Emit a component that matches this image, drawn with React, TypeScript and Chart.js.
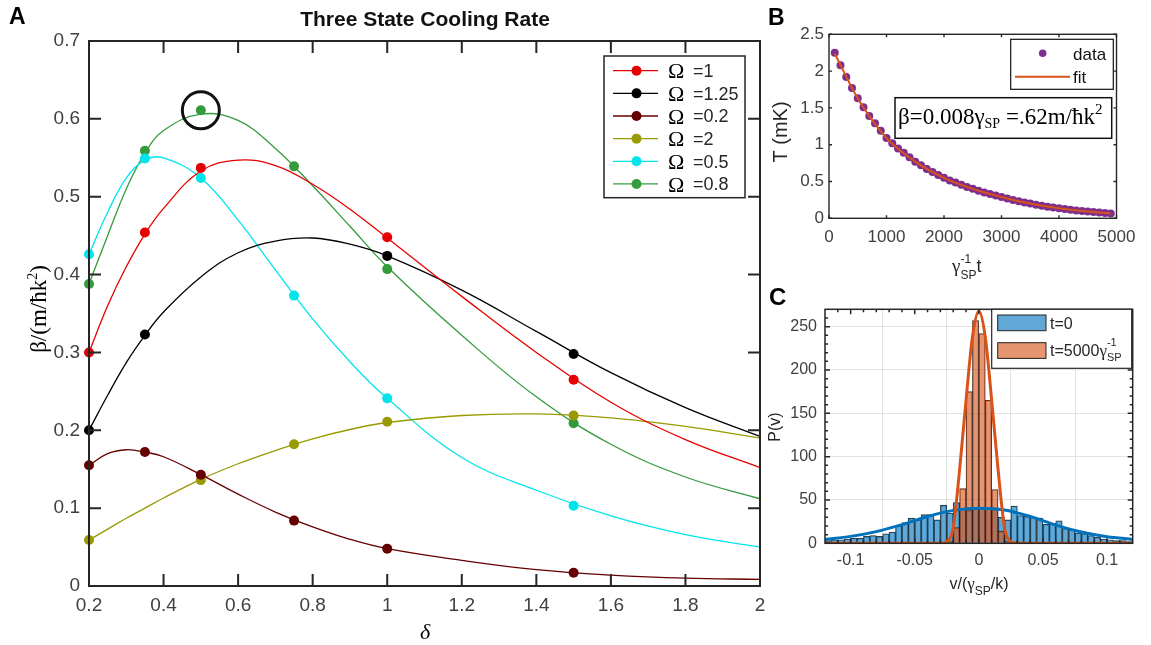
import React, { useEffect, useRef } from "react";
import { Chart, registerables } from "chart.js";

Chart.register(...registerables);

const W = 1151;
const H = 645;
const SANS = '"Liberation Sans", Arial, Helvetica, sans-serif';
const SERIF = '"Liberation Serif", "Times New Roman", serif';
const TICK_GRAY = "#404040";
const AXIS_DARK = "#262626";

// ---------------- Panel A : Three State Cooling Rate ----------------
const deltaPts = [0.2, 0.35, 0.5, 0.75, 1, 1.5];
const betaOmega1 = [0.3, 0.454, 0.537, null, 0.448, 0.265];
const betaOmega125 = [0.2, 0.323, null, null, 0.424, 0.298];
const betaOmega02 = [0.155, 0.172, 0.143, 0.084, 0.048, 0.017];
const betaOmega2 = [0.059, null, 0.136, 0.182, 0.211, 0.219];
const betaOmega05 = [0.426, 0.549, 0.524, 0.373, 0.241, 0.103];
const betaOmega08 = [0.388, 0.559, 0.611, 0.539, 0.407, 0.209];

const deltaFine = [0.2, 0.25, 0.3, 0.35, 0.4, 0.5, 0.6, 0.7, 0.8, 0.9, 1.0, 1.2, 1.4, 1.6, 1.8, 2.0];
const fitOmega1 = [0.3, 0.36, 0.41, 0.452, 0.485, 0.533, 0.547, 0.54, 0.516, 0.484, 0.447, 0.372, 0.3, 0.236, 0.188, 0.152];
const fitOmega125 = [0.2, 0.245, 0.287, 0.322, 0.352, 0.397, 0.428, 0.443, 0.447, 0.439, 0.424, 0.38, 0.327, 0.274, 0.229, 0.192];
const fitOmega02 = [0.155, 0.17, 0.175, 0.172, 0.166, 0.143, 0.118, 0.095, 0.076, 0.06, 0.048, 0.033, 0.021, 0.014, 0.01, 0.0086];
const fitOmega2 = [0.059, 0.073, 0.087, 0.1, 0.113, 0.137, 0.157, 0.174, 0.189, 0.201, 0.21, 0.219, 0.221, 0.216, 0.205, 0.19];
const fitOmega05 = [0.426, 0.48, 0.524, 0.547, 0.55, 0.524, 0.47, 0.406, 0.343, 0.288, 0.241, 0.165, 0.123, 0.09, 0.066, 0.05];
const fitOmega08 = [0.388, 0.45, 0.51, 0.556, 0.585, 0.606, 0.598, 0.562, 0.514, 0.462, 0.41, 0.322, 0.243, 0.182, 0.14, 0.112];

const omegaLabels = ["=1", "=1.25", "=0.2", "=2", "=0.5", "=0.8"];
const omegaColors = ["rgb(230,0,0)", "rgb(0,0,0)", "rgb(102,0,0)", "rgb(153,153,0)", "rgb(0,228,235)", "rgb(52,155,60)"];
const highlightDelta = [0.5];
const highlightBeta = [0.611];

const aXTicks = [0.2, 0.4, 0.6, 0.8, 1, 1.2, 1.4, 1.6, 1.8, 2];
const aXTickLabels = ["0.2", "0.4", "0.6", "0.8", "1", "1.2", "1.4", "1.6", "1.8", "2"];
const aYTicks = [0, 0.1, 0.2, 0.3, 0.4, 0.5, 0.6, 0.7];
const aYTickLabels = ["0", "0.1", "0.2", "0.3", "0.4", "0.5", "0.6", "0.7"];

// ---------------- Panel B : temperature vs time ----------------
const timeB = [
  100, 200, 300, 400, 500, 600, 700, 800, 900, 1000,
  1100, 1200, 1300, 1400, 1500, 1600, 1700, 1800, 1900, 2000,
  2100, 2200, 2300, 2400, 2500, 2600, 2700, 2800, 2900, 3000,
  3100, 3200, 3300, 3400, 3500, 3600, 3700, 3800, 3900, 4000,
  4100, 4200, 4300, 4400, 4500, 4600, 4700, 4800, 4900,
];
const tempB = [
  2.25, 2.08, 1.92, 1.77, 1.63, 1.51, 1.39, 1.29, 1.19, 1.09,
  1.02, 0.95, 0.89, 0.83, 0.77, 0.72, 0.67, 0.63, 0.59, 0.55,
  0.515, 0.485, 0.455, 0.425, 0.4, 0.375, 0.35, 0.33, 0.31, 0.29,
  0.27, 0.25, 0.232, 0.215, 0.2, 0.185, 0.171, 0.158, 0.146, 0.135,
  0.125, 0.116, 0.107, 0.099, 0.092, 0.085, 0.078, 0.072, 0.066,
];
const fitTimeB = [100, 500, 1000, 1500, 2000, 2500, 3000, 3500, 4000, 4500, 4900];
const fitTempB = [2.24, 1.63, 1.09, 0.77, 0.55, 0.4, 0.29, 0.2, 0.135, 0.092, 0.066];
const bXTicks = [0, 1000, 2000, 3000, 4000, 5000];
const bXTickLabels = ["0", "1000", "2000", "3000", "4000", "5000"];
const bYTicks = [0, 0.5, 1, 1.5, 2, 2.5];
const bYTickLabels = ["0", "0.5", "1", "1.5", "2", "2.5"];

// ---------------- Panel C : velocity histograms ----------------
const binCentersT0 = [
  -0.1175, -0.1125, -0.1075, -0.1025, -0.0975, -0.0925, -0.0875, -0.0825, -0.0775, -0.0725,
  -0.0675, -0.0625, -0.0575, -0.0525, -0.0475, -0.0425, -0.0375, -0.0325, -0.0275, -0.0225,
  -0.0175, -0.0125, -0.0075, -0.0025, 0.0025, 0.0075, 0.0125, 0.0175, 0.0225, 0.0275,
  0.0325, 0.0375, 0.0425, 0.0475, 0.0525, 0.0575, 0.0625, 0.0675, 0.0725, 0.0775,
  0.0825, 0.0875, 0.0925, 0.0975, 0.1025, 0.1075, 0.1125, 0.1175,
];
const countsT0 = [
  3, 4, 4, 5, 6, 6, 8, 9, 8, 11,
  13, 20, 24, 29, 27, 33, 33, 27, 44, 35,
  47, 40, 38, 40, 41, 40, 39, 30, 27, 43,
  32, 31, 30, 29, 22, 23, 26, 17, 16, 12,
  11, 9, 7, 5, 4, 3, 3, 2,
];
const binCentersT5000 = [-0.0225, -0.0175, -0.0125, -0.0075, -0.0025, 0.0025, 0.0075, 0.0125, 0.0175, 0.0225];
const countsT5000 = [2, 18, 63, 175, 257, 242, 165, 62, 14, 2];
const fitVT0 = [-0.12, -0.1, -0.08, -0.06, -0.04, -0.02, 0, 0.02, 0.04, 0.06, 0.08, 0.1, 0.12];
const fitPT0 = [4.5, 8, 13.5, 21.5, 31, 38, 40.5, 38.5, 31, 21, 13, 7.5, 4.5];
const fitVT5000 = [-0.12, -0.03, -0.025, -0.02, -0.015, -0.01, -0.005, 0, 0.005, 0.01, 0.015, 0.02, 0.025, 0.03, 0.12];
const fitPT5000 = [0, 0, 2, 18, 85, 165, 238, 268, 238, 165, 85, 18, 2, 0, 0];
const cXTicks = [-0.1, -0.05, 0, 0.05, 0.1];
const cXTickLabels = ["-0.1", "-0.05", "0", "0.05", "0.1"];
const cYTicks = [0, 50, 100, 150, 200, 250];
const cYTickLabels = ["0", "50", "100", "150", "200", "250"];

// ---------------- helpers ----------------
type Run = { t: string; font: string; dy?: number; color?: string; noAdvance?: boolean };

function runsWidth(ctx: CanvasRenderingContext2D, runs: Run[]) {
  let w = 0;
  for (const r of runs) {
    ctx.font = r.font;
    if (!r.noAdvance) w += ctx.measureText(r.t).width;
  }
  return w;
}

function drawRuns(ctx: CanvasRenderingContext2D, x: number, y: number, runs: Run[], align = "left") {
  const total = runsWidth(ctx, runs);
  let cx = align === "left" ? x : align === "center" ? x - total / 2 : x - total;
  ctx.textAlign = "left";
  ctx.textBaseline = "alphabetic";
  for (const r of runs) {
    ctx.font = r.font;
    ctx.fillStyle = r.color || "#000";
    ctx.fillText(r.t, cx, y + (r.dy || 0));
    if (!r.noAdvance) cx += ctx.measureText(r.t).width;
  }
}

function framePlugin(id: string, o: { lw: number; color: string; len: number; minorX?: number; minorY?: number; minorLen?: number }) {
  return {
    id,
    afterDatasetsDraw(chart: any) {
      const { ctx, chartArea: a, scales } = chart;
      const xs = scales.x;
      const ys = scales.y;
      ctx.save();
      ctx.strokeStyle = o.color;
      ctx.lineWidth = o.lw;
      ctx.beginPath();
      const tickX = (p: number, L: number) => {
        ctx.moveTo(p, a.bottom);
        ctx.lineTo(p, a.bottom - L);
        ctx.moveTo(p, a.top);
        ctx.lineTo(p, a.top + L);
      };
      const tickY = (p: number, L: number) => {
        ctx.moveTo(a.left, p);
        ctx.lineTo(a.left + L, p);
        ctx.moveTo(a.right, p);
        ctx.lineTo(a.right - L, p);
      };
      for (const t of xs.ticks) tickX(xs.getPixelForValue(t.value), o.len);
      for (const t of ys.ticks) tickY(ys.getPixelForValue(t.value), o.len);
      if (o.minorX) {
        const n = Math.round((xs.max - xs.min) / o.minorX);
        const start = Math.ceil(xs.min / o.minorX);
        for (let k = start; k <= start + n; k++) {
          const v = k * o.minorX;
          if (v > xs.min && v < xs.max) tickX(xs.getPixelForValue(v), o.minorLen || 2);
        }
      }
      if (o.minorY) {
        const n = Math.round((ys.max - ys.min) / o.minorY);
        for (let k = 0; k <= n; k++) {
          const v = ys.min + k * o.minorY;
          if (v > ys.min && v < ys.max) tickY(ys.getPixelForValue(v), o.minorLen || 2);
        }
      }
      ctx.stroke();
      ctx.strokeRect(a.left, a.top, a.right - a.left, a.bottom - a.top);
      ctx.restore();
    },
  };
}

function axisCfg(o: any) {
  return {
    type: "linear",
    min: o.min,
    max: o.max,
    offset: false,
    afterFit: o.afterFit,
    afterBuildTicks: (s: any) => {
      s.ticks = o.ticks.map((v: number) => ({ value: v }));
    },
    grid: o.grid || { display: false, drawTicks: false },
    border: { display: false },
    ticks: {
      autoSkip: false,
      maxRotation: 0,
      minRotation: 0,
      padding: o.pad,
      color: TICK_GRAY,
      font: { family: SANS, size: o.size },
      callback: (_v: any, i: number) => o.labels[i],
    },
  };
}

const baseOptions = {
  responsive: false,
  animation: false,
  devicePixelRatio: 1,
  events: [],
  plugins: { legend: { display: false }, tooltip: { enabled: false }, title: { display: false } },
};

// ---------------- Panel A ----------------
function makeA(canvas: HTMLCanvasElement) {
  const seriesA = [
    { pts: betaOmega1, fit: fitOmega1 },
    { pts: betaOmega125, fit: fitOmega125 },
    { pts: betaOmega02, fit: fitOmega02 },
    { pts: betaOmega2, fit: fitOmega2 },
    { pts: betaOmega05, fit: fitOmega05 },
    { pts: betaOmega08, fit: fitOmega08 },
  ];
  const datasets: any[] = [];
  datasets.push({
    data: highlightDelta.map((x, i) => ({ x, y: highlightBeta[i] })),
    showLine: false,
    pointRadius: 18.5,
    pointBackgroundColor: "rgba(0,0,0,0)",
    pointBorderColor: "#111",
    pointBorderWidth: 3,
    order: -1,
    clip: false,
  });
  seriesA.forEach((s, k) => {
    datasets.push({
      data: deltaPts.map((x, i) => ({ x, y: s.pts[i] })),
      showLine: false,
      pointRadius: 5,
      pointBackgroundColor: omegaColors[k],
      pointBorderColor: omegaColors[k],
      pointBorderWidth: 0,
      order: k,
      clip: false,
    });
    datasets.push({
      data: deltaFine.map((x, i) => ({ x, y: s.fit[i] })),
      showLine: true,
      borderColor: omegaColors[k],
      borderWidth: 1.3,
      pointRadius: 0,
      tension: 0.4,
      order: 10 + k,
    });
  });

  const textPlugin = {
    id: "textA",
    afterDraw(chart: any) {
      const ctx = chart.ctx;
      ctx.save();
      drawRuns(ctx, 9, 24, [{ t: "A", font: `bold 23px ${SANS}` }]);
      drawRuns(ctx, 425, 26, [{ t: "Three State Cooling Rate", font: `bold 21px ${SANS}`, color: "#111" }], "center");
      // y label
      ctx.save();
      ctx.translate(46, 309);
      ctx.rotate(-Math.PI / 2);
      drawRuns(
        ctx,
        0,
        0,
        [
          { t: "β/(m/ħk", font: `23px ${SERIF}` },
          { t: "2", font: `14px ${SERIF}`, dy: -9 },
          { t: ")", font: `23px ${SERIF}` },
        ],
        "center"
      );
      ctx.restore();
      // x label
      drawRuns(ctx, 425, 639, [{ t: "δ", font: `italic 22px ${SERIF}` }], "center");
      // legend
      const lx0 = 604, ly0 = 56, lx1 = 745, ly1 = 197.7;
      ctx.fillStyle = "#fff";
      ctx.fillRect(lx0, ly0, lx1 - lx0, ly1 - ly0);
      ctx.strokeStyle = AXIS_DARK;
      ctx.lineWidth = 1.5;
      ctx.strokeRect(lx0, ly0, lx1 - lx0, ly1 - ly0);
      omegaLabels.forEach((lab, i) => {
        const y = 70.7 + i * 22.65;
        ctx.strokeStyle = omegaColors[i];
        ctx.lineWidth = 1.3;
        ctx.beginPath();
        ctx.moveTo(613, y);
        ctx.lineTo(658, y);
        ctx.stroke();
        ctx.fillStyle = omegaColors[i];
        ctx.beginPath();
        ctx.arc(636.5, y, 5, 0, Math.PI * 2);
        ctx.fill();
        drawRuns(ctx, 668, y + 7.6, [{ t: "Ω", font: `22px ${SERIF}` }]);
        drawRuns(ctx, 693, y + 6.2, [{ t: lab, font: `18px ${SANS}`, color: AXIS_DARK }]);
      });
      ctx.restore();
    },
  };

  return new Chart(canvas, {
    type: "scatter",
    data: { datasets },
    options: {
      ...baseOptions,
      layout: { padding: { left: 0, top: 41, right: W - 760, bottom: 0 } },
      scales: {
        x: axisCfg({ min: 0.2, max: 2, ticks: aXTicks, labels: aXTickLabels, size: 19, pad: 8, afterFit: (s: any) => { s.height = H - 586; } }),
        y: axisCfg({ min: 0, max: 0.7, ticks: aYTicks, labels: aYTickLabels, size: 19, pad: 9, afterFit: (s: any) => { s.width = 89; } }),
      },
    } as any,
    plugins: [framePlugin("frameA", { lw: 2, color: AXIS_DARK, len: 12 }), textPlugin],
  } as any);
}

// ---------------- Panel B ----------------
function makeB(canvas: HTMLCanvasElement) {
  const purple = "rgb(126,47,142)";
  const orange = "rgb(217,83,25)";
  const textPlugin = {
    id: "textB",
    afterDraw(chart: any) {
      const ctx = chart.ctx;
      ctx.save();
      drawRuns(ctx, 768, 25, [{ t: "B", font: `bold 23px ${SANS}` }]);
      // y label
      ctx.save();
      ctx.translate(787, 132);
      ctx.rotate(-Math.PI / 2);
      drawRuns(ctx, 0, 0, [{ t: "T (mK)", font: `20px ${SANS}`, color: AXIS_DARK }], "center");
      ctx.restore();
      // x label
      drawRuns(ctx, 952, 272, [
        { t: "γ", font: `19px ${SERIF}`, color: AXIS_DARK },
        { t: "-1", font: `12px ${SANS}`, dy: -9, noAdvance: true, color: AXIS_DARK },
        { t: "SP", font: `12px ${SANS}`, dy: 7, color: AXIS_DARK },
        { t: "t", font: `18px ${SANS}`, color: AXIS_DARK },
      ]);
      // legend
      const lx0 = 1010.7, ly0 = 39.3, lx1 = 1113.3, ly1 = 89.3;
      ctx.fillStyle = "#fff";
      ctx.fillRect(lx0, ly0, lx1 - lx0, ly1 - ly0);
      ctx.strokeStyle = "#111";
      ctx.lineWidth = 1.2;
      ctx.strokeRect(lx0, ly0, lx1 - lx0, ly1 - ly0);
      ctx.fillStyle = purple;
      ctx.beginPath();
      ctx.arc(1042.7, 53.3, 3.8, 0, Math.PI * 2);
      ctx.fill();
      drawRuns(ctx, 1073, 59.5, [{ t: "data", font: `17px ${SANS}`, color: "#111" }]);
      ctx.strokeStyle = orange;
      ctx.lineWidth = 2;
      ctx.beginPath();
      ctx.moveTo(1015, 76.7);
      ctx.lineTo(1070, 76.7);
      ctx.stroke();
      drawRuns(ctx, 1073, 83, [{ t: "fit", font: `17px ${SANS}`, color: "#111" }]);
      // annotation
      ctx.fillStyle = "#fff";
      ctx.fillRect(895, 97.7, 216.7, 40.6);
      ctx.strokeStyle = "#111";
      ctx.lineWidth = 1.5;
      ctx.strokeRect(895, 97.7, 216.7, 40.6);
      drawRuns(ctx, 898, 123.5, [
        { t: "β=0.008γ", font: `23px ${SERIF}` },
        { t: "SP", font: `14px ${SERIF}`, dy: 4 },
        { t: " =.62m/ħk", font: `23px ${SERIF}` },
        { t: "2", font: `15px ${SERIF}`, dy: -10 },
      ]);
      ctx.restore();
    },
  };
  return new Chart(canvas, {
    type: "scatter",
    data: {
      datasets: [
        {
          data: timeB.map((x, i) => ({ x, y: tempB[i] })),
          showLine: false,
          pointRadius: 4,
          pointBackgroundColor: purple,
          pointBorderColor: purple,
          pointBorderWidth: 0,
          order: 1,
          clip: false,
        },
        {
          data: fitTimeB.map((x, i) => ({ x, y: fitTempB[i] })),
          showLine: true,
          borderColor: orange,
          borderWidth: 2,
          pointRadius: 0,
          cubicInterpolationMode: "monotone",
          order: 0,
        },
      ],
    },
    options: {
      ...baseOptions,
      layout: { padding: { left: 829 - 50, top: 34.3, right: W - 1116.5, bottom: H - 218.3 - 30 } },
      scales: {
        x: axisCfg({ min: 0, max: 5000, ticks: bXTicks, labels: bXTickLabels, size: 17, pad: 9, afterFit: (s: any) => { s.height = 30; } }),
        y: axisCfg({ min: 0, max: 2.5, ticks: bYTicks, labels: bYTickLabels, size: 17, pad: 5, afterFit: (s: any) => { s.width = 50; } }),
      },
    } as any,
    plugins: [framePlugin("frameB", { lw: 1.4, color: AXIS_DARK, len: 3 }), textPlugin],
  } as any);
}

// ---------------- Panel C ----------------
function makeC(canvas: HTMLCanvasElement) {
  const blueFill = "rgba(0,114,189,0.62)";
  const orangeFill = "rgba(217,83,25,0.62)";
  const blueLine = "rgb(0,114,189)";
  const orangeLine = "rgb(217,83,25)";
  const textPlugin = {
    id: "textC",
    afterDraw(chart: any) {
      const ctx = chart.ctx;
      ctx.save();
      drawRuns(ctx, 769, 305, [{ t: "C", font: `bold 24px ${SANS}` }]);
      ctx.save();
      ctx.translate(780, 427);
      ctx.rotate(-Math.PI / 2);
      drawRuns(ctx, 0, 0, [{ t: "P(v)", font: `16px ${SANS}`, color: AXIS_DARK }], "center");
      ctx.restore();
      drawRuns(
        ctx,
        979,
        589,
        [
          { t: "v/(", font: `16px ${SANS}`, color: AXIS_DARK },
          { t: "γ", font: `17px ${SERIF}`, color: AXIS_DARK },
          { t: "SP", font: `12px ${SANS}`, dy: 6, color: AXIS_DARK },
          { t: "/k)", font: `16px ${SANS}`, color: AXIS_DARK },
        ],
        "center"
      );
      // legend
      const lx0 = 991.7, ly0 = 309.3, lx1 = 1131.7, ly1 = 368.3;
      ctx.fillStyle = "#fff";
      ctx.fillRect(lx0, ly0, lx1 - lx0, ly1 - ly0);
      ctx.strokeStyle = AXIS_DARK;
      ctx.lineWidth = 1.2;
      ctx.strokeRect(lx0, ly0, lx1 - lx0, ly1 - ly0);
      ctx.fillStyle = blueFill;
      ctx.fillRect(997.7, 315, 48.3, 15.7);
      ctx.strokeStyle = "#222";
      ctx.lineWidth = 1;
      ctx.strokeRect(997.7, 315, 48.3, 15.7);
      ctx.fillStyle = orangeFill;
      ctx.fillRect(997.7, 342.7, 48.3, 15.7);
      ctx.strokeRect(997.7, 342.7, 48.3, 15.7);
      drawRuns(ctx, 1050, 328.5, [{ t: "t=0", font: `16px ${SANS}`, color: AXIS_DARK }]);
      drawRuns(ctx, 1050, 356, [
        { t: "t=5000", font: `16px ${SANS}`, color: AXIS_DARK },
        { t: "γ", font: `17px ${SERIF}`, color: AXIS_DARK },
        { t: "-1", font: `11px ${SANS}`, dy: -10, noAdvance: true, color: AXIS_DARK },
        { t: "SP", font: `11px ${SANS}`, dy: 5, color: AXIS_DARK },
      ]);
      ctx.restore();
    },
  };
  return new Chart(canvas, {
    type: "bar",
    data: {
      datasets: [
        {
          type: "line",
          data: fitVT5000.map((x, i) => ({ x, y: fitPT5000[i] })),
          borderColor: orangeLine,
          borderWidth: 3,
          pointRadius: 0,
          cubicInterpolationMode: "monotone",
          order: 0,
        },
        {
          type: "line",
          data: fitVT0.map((x, i) => ({ x, y: fitPT0[i] })),
          borderColor: blueLine,
          borderWidth: 3,
          pointRadius: 0,
          cubicInterpolationMode: "monotone",
          order: 1,
        },
        {
          type: "bar",
          data: binCentersT5000.map((x, i) => ({ x, y: countsT5000[i] })),
          backgroundColor: orangeFill,
          borderColor: "rgba(20,20,20,0.85)",
          borderWidth: 0.7,
          barPercentage: 1,
          categoryPercentage: 1,
          grouped: false,
          order: 2,
        },
        {
          type: "bar",
          data: binCentersT0.map((x, i) => ({ x, y: countsT0[i] })),
          backgroundColor: blueFill,
          borderColor: "rgba(20,20,20,0.85)",
          borderWidth: 0.7,
          barPercentage: 1,
          categoryPercentage: 1,
          grouped: false,
          order: 3,
        },
      ],
    },
    options: {
      ...baseOptions,
      layout: { padding: { left: 825 - 45, top: 309.3, right: W - 1132.7, bottom: H - 543.3 - 30 } },
      scales: {
        x: axisCfg({
          min: -0.12,
          max: 0.12,
          ticks: cXTicks,
          labels: cXTickLabels,
          size: 16,
          pad: 8,
          grid: { display: true, drawTicks: false, color: "#e2e2e2", lineWidth: 1 },
          afterFit: (s: any) => { s.height = 30; },
        }),
        y: axisCfg({
          min: 0,
          max: 270,
          ticks: cYTicks,
          labels: cYTickLabels,
          size: 16,
          pad: 8,
          grid: { display: true, drawTicks: false, color: "#e2e2e2", lineWidth: 1 },
          afterFit: (s: any) => { s.width = 45; },
        }),
      },
    } as any,
    plugins: [framePlugin("frameC", { lw: 1.5, color: AXIS_DARK, len: 5, minorX: 0.01, minorY: 10, minorLen: 3 }), textPlugin],
  } as any);
}

function PanelCanvas({ make }: { make: (c: HTMLCanvasElement) => Chart }) {
  const ref = useRef<HTMLCanvasElement>(null);
  useEffect(() => {
    const chart = make(ref.current as HTMLCanvasElement);
    return () => chart.destroy();
  }, []);
  return (
    <canvas
      ref={ref}
      width={W}
      height={H}
      style={{ position: "absolute", left: 0, top: 0, width: W, height: H }}
    />
  );
}

export default function App() {
  return (
    <div style={{ position: "absolute", left: 0, top: 0, width: W, height: H, background: "#fff", overflow: "hidden" }}>
      <PanelCanvas make={makeA} />
      <PanelCanvas make={makeB} />
      <PanelCanvas make={makeC} />
    </div>
  );
}
